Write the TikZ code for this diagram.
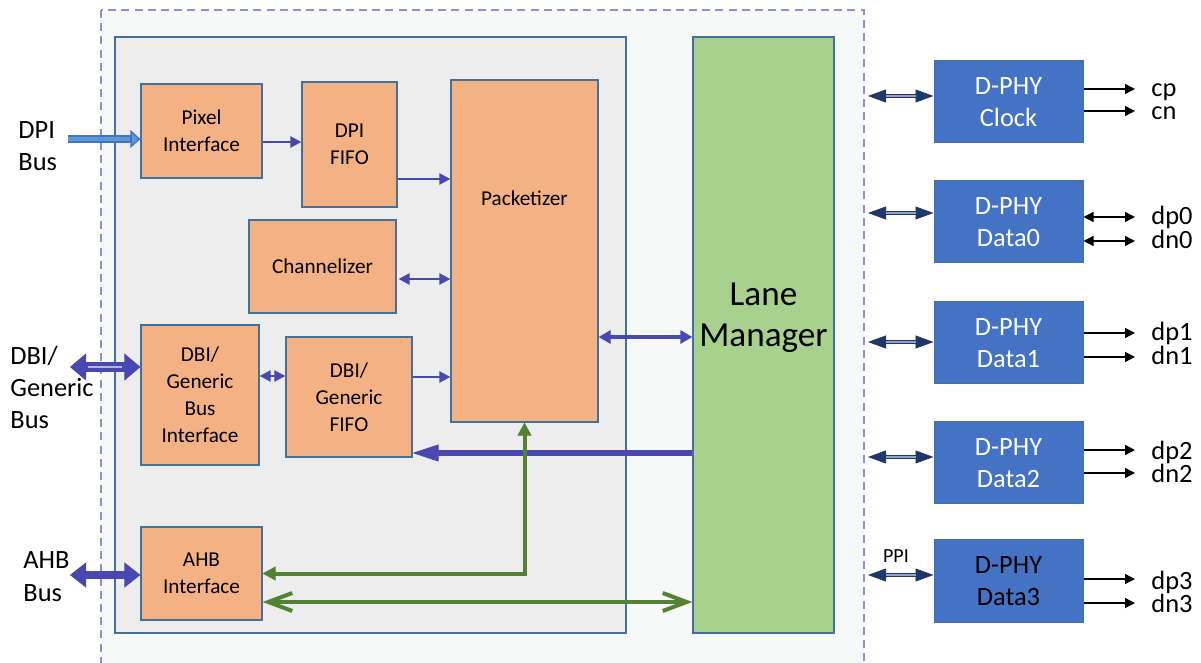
\documentclass[tikz,border=0pt]{standalone}
\usepackage{fontspec}
\setmainfont{Carlito}
\usetikzlibrary{arrows.meta,calc}
\definecolor{boxorange}{HTML}{F4B183}
\definecolor{boxedge}{HTML}{41719C}
\definecolor{innergrey}{HTML}{EDEDED}
\definecolor{outerfill}{HTML}{F7F9F9}
\definecolor{dashblue}{HTML}{8F8FD6}
\definecolor{lanegreen}{HTML}{A9D18E}
\definecolor{phyblue}{HTML}{4472C4}
\definecolor{busviolet}{HTML}{4848B0}
\definecolor{buslight}{HTML}{B4B4E6}
\definecolor{ctlgreen}{HTML}{548235}
\definecolor{ppinavy}{HTML}{1F3868}
\definecolor{ppilight}{HTML}{8EA4CC}
\definecolor{dpiblue}{HTML}{5B9BD5}
\newcommand{\boxfont}{\fontsize{10.6}{13.5}\selectfont}
\newcommand{\busfont}{\fontsize{13.2}{16.2}\selectfont}
\tikzset{
  blk/.style={draw=boxedge, fill=boxorange, line width=0.6pt, align=center,
    font=\boxfont, inner sep=0pt},
  phy/.style={draw=boxedge, fill=phyblue, text=white, line width=0.5pt,
    align=center, minimum width=74.5pt, minimum height=41pt, font=\busfont},
  buslbl/.style={anchor=west, align=left, inner sep=0pt, font=\busfont},
  pinlbl/.style={anchor=base west, inner sep=0pt, font=\busfont},
  sig/.style={busviolet, line width=1.2pt, >={Triangle[length=5.5pt,width=5.5pt]}},
  sigwide/.style={busviolet, line width=1.6pt, >={Triangle[length=6pt,width=6.5pt]}},
  ret/.style={busviolet, line width=2.6pt, >={Triangle[length=13pt,width=8.5pt,line width=0.4pt]}},
  ctl/.style={ctlgreen, line width=2pt, >={Triangle[length=6.5pt,width=7pt,line width=0.4pt]}},
  ctlbus/.style={ctlgreen, line width=2pt, >={Straight Barb[length=12pt,width=9pt]}},
  dpiarr/.style={phyblue, line width=3.6pt,
    >={Triangle[length=5pt,width=9pt,fill=dpiblue,line width=0.7pt]},
    postaction={draw=dpiblue, line width=2pt, -, shorten >=5pt}},
  dbiarr/.style={busviolet, line width=5pt,
    >={Triangle[length=8pt,width=13.5pt,line width=0.4pt]},
    postaction={draw=buslight, line width=0.7pt, -, shorten <=9pt, shorten >=9pt}},
  ahbarr/.style={busviolet, line width=4pt,
    >={Triangle[length=8pt,width=12.5pt,line width=0.4pt]}},
  ppi/.style={ppinavy, line width=2.2pt,
    >={Triangle[length=9pt,width=6.5pt,line width=0.4pt]},
    postaction={draw=ppilight, line width=0.6pt, -, shorten <=9pt, shorten >=9pt}},
  pin/.style={black, line width=0.7pt, >={Triangle[length=5pt,width=5pt]}}
}
\begin{document}
\begin{tikzpicture}[x=0.5pt,y=-0.5pt]
  \useasboundingbox (0,0) rectangle (1201,663);
  % controller frames
  \draw[dashblue, fill=outerfill, line width=0.8pt, dash pattern=on 4pt off 2.6pt]
    (101,10) rectangle (864,700);
  \draw[boxedge, fill=innergrey, line width=0.6pt] (115,37) rectangle (626,633);

  % blocks of the controller
  \node[blk, minimum width=60.5pt, minimum height=47pt] (pix) at (201.5,131)
    {Pixel\\Interface};
  \node[blk, minimum width=47.5pt, minimum height=62.5pt] (dpif) at (349.5,144.5)
    {DPI\\FIFO};
  \node[blk, minimum width=73.5pt, minimum height=171pt,
    label={[anchor=center, yshift=-59.5pt, font=\boxfont]north:Packetizer}]
    (pkt) at (524.5,251) {};
  \node[blk, minimum width=73.5pt, minimum height=46.5pt] (chan) at (322.5,266.5)
    {Channelizer};
  \node[blk, minimum width=59pt, minimum height=70pt] (dbii) at (200,395)
    {DBI/\\Generic\\Bus\\Interface};
  \node[blk, minimum width=63pt, minimum height=60pt] (dbif) at (349,397)
    {DBI/\\Generic\\FIFO};
  \node[blk, minimum width=60.5pt, minimum height=46.5pt] (ahb) at (201.5,573.5)
    {AHB\\Interface};
  \node[draw=boxedge, fill=lanegreen, line width=0.6pt, minimum width=70.5pt,
    minimum height=298pt,
    label={[align=center, yshift=8.8pt, font=\fontsize{17.6}{20.5}\selectfont]center:Lane\\Manager}]
    (lane) at (763.5,335) {};

  % D-PHY lanes
  \node[phy] (clk) at (1008.5,102) {D-PHY\\Clock};
  \node[phy] (d0) at (1008.5,222) {D-PHY\\Data0};
  \node[phy] (d1) at (1008.5,343) {D-PHY\\Data1};
  \node[phy] (d2) at (1008.5,463) {D-PHY\\Data2};
  \node[phy, text=black] (d3) at (1008.5,581) {D-PHY\\Data3};

  % bus labels
  \node[buslbl] (dpibus) at (18,146) {DPI\\Bus};
  \node[buslbl] (dbibus) at (10,387.5) {DBI/\\Generic\\Bus};
  \node[buslbl] (ahbbus) at (23,576.5) {AHB\\Bus};
  \node[font=\fontsize{10}{12}\selectfont] (ppilbl) at (896,556) {PPI};
  \coordinate (dpiin) at (68,139);
  \coordinate (dbiin) at (70,367);
  \coordinate (ahbin) at (70,575);
  \coordinate (ppiedge) at (868,0);
  \coordinate (pinend) at (1135,0);

  % external buses
  \draw[dpiarr, ->] (dpiin) -- (dpiin -| pix.west);
  \draw[dbiarr, <->] (dbiin) -- (dbiin -| dbii.west);
  \draw[ahbarr, <->] (ahbin) -- (ahbin -| ahb.west);

  % internal data path
  \draw[sig, ->] (pix.east |- 0,142) -- (dpif.west |- 0,142);
  \draw[sig, ->] (dpif.east |- 0,179) -- (pkt.west |- 0,179);
  \draw[sig, <->] ($(chan.east |- 0,279)+(2,0)$) -- (pkt.west |- 0,279);
  \draw[sig, <->] (dbii.east |- 0,376) -- (dbif.west |- 0,376);
  \draw[sig, ->] (dbif.east |- 0,377) -- (pkt.west |- 0,377);
  \draw[sigwide, <->] (pkt.east |- 0,337) -- (lane.west |- 0,337);
  \draw[ret, ->] (lane.west |- 0,453) -- (dbif.east |- 0,453);

  % register access
  \draw[ctl, <->] (ahb.east) -| (pkt.south);
  \draw[ctlbus, <->] (ahb.east |- 0,602) -- (lane.west |- 0,602);

  % PPI side
  \draw[ppi, <->] (ppiedge |- 0,96) -- (clk.west |- 0,96);
  \draw[ppi, <->] (ppiedge |- 0,213) -- (d0.west |- 0,213);
  \draw[ppi, <->] (ppiedge |- 0,342) -- (d1.west |- 0,342);
  \draw[ppi, <->] (ppiedge |- 0,457) -- (d2.west |- 0,457);
  \draw[ppi, <->] (ppiedge |- 0,575) -- (d3.west |- 0,575);

  % pins
  \draw[pin, ->] (clk.east |- 0,89) -- (pinend |- 0,89);
  \draw[pin, ->] (clk.east |- 0,111) -- (pinend |- 0,111);
  \draw[pin, <->] (d0.east |- 0,217) -- (pinend |- 0,217);
  \draw[pin, <->] (d0.east |- 0,241) -- (pinend |- 0,241);
  \draw[pin, ->] (d1.east |- 0,333) -- (pinend |- 0,333);
  \draw[pin, ->] (d1.east |- 0,357) -- (pinend |- 0,357);
  \draw[pin, ->] (d2.east |- 0,450) -- (pinend |- 0,450);
  \draw[pin, ->] (d2.east |- 0,473) -- (pinend |- 0,473);
  \draw[pin, ->] (d3.east |- 0,579) -- (pinend |- 0,579);
  \draw[pin, ->] (d3.east |- 0,603) -- (pinend |- 0,603);
  \node[pinlbl] (cp) at (1151,97) {cp};
  \node[pinlbl] (cn) at (1151,120) {cn};
  \node[pinlbl] (dp0) at (1151,225) {dp0};
  \node[pinlbl] (dn0) at (1151,249) {dn0};
  \node[pinlbl] (dp1) at (1151,341) {dp1};
  \node[pinlbl] (dn1) at (1151,365) {dn1};
  \node[pinlbl] (dp2) at (1151,460) {dp2};
  \node[pinlbl] (dn2) at (1151,483) {dn2};
  \node[pinlbl] (dp3) at (1151,589) {dp3};
  \node[pinlbl] (dn3) at (1151,612) {dn3};
\end{tikzpicture}
\end{document}
